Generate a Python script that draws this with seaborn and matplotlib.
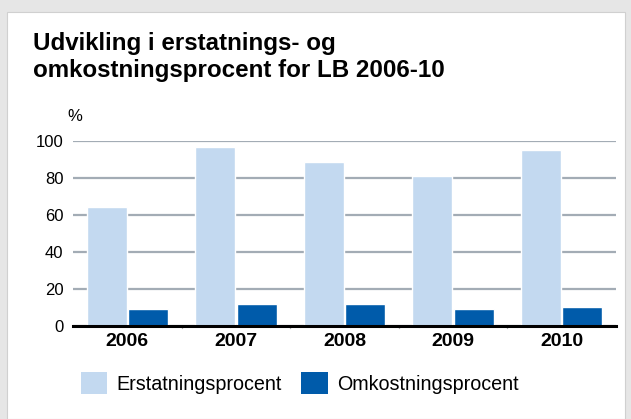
import pandas as pd
import matplotlib
matplotlib.use("Agg")
import matplotlib.pyplot as plt
import seaborn as sns
from matplotlib.patches import Rectangle, Patch

# ================================
# DATA
# ================================
years = ["2006", "2007", "2008", "2009", "2010"]
erstatning = [64, 97, 88.6, 81, 95.1]
omkostning = [9, 12, 11.5, 9, 10.1]
series = ["Erstatningsprocent", "Omkostningsprocent"]
colors = ["#c3d9f0", "#005baa"]

df = pd.DataFrame({
    "year": years * 2,
    "value": erstatning + omkostning,
    "series": [series[0]] * len(years) + [series[1]] * len(years),
})

# ================================
# FIGURE
# ================================
sns.set_style("white")
plt.rcParams["font.family"] = ["Liberation Sans", "DejaVu Sans"]
plt.rcParams["text.color"] = "black"
plt.rcParams["xtick.color"] = "black"
plt.rcParams["ytick.color"] = "black"

W, H = 631, 419
fig = plt.figure(figsize=(W / 100, H / 100), dpi=100)
fig.patch.set_facecolor("#e6e6e6")
fig.patches.append(Rectangle((7 / W, 0), 618 / W, 1 - 12 / H,
                             transform=fig.transFigure, facecolor="white",
                             edgecolor="#d0d0d0", linewidth=0.8, zorder=-10))

ax = fig.add_axes([73 / W, 1 - 325.7 / H, 543 / W, 184.7 / H])
ax.set_facecolor("none")

sns.barplot(data=df, x="year", y="value", hue="series", palette=colors,
            width=0.764, gap=0.036, saturation=1, ax=ax, legend=False, zorder=3)

ax.set_ylim(0, 100)
ax.set_yticks([0, 20, 40, 60, 80, 100])
ax.set_xlim(-0.5, 4.5)
ax.yaxis.grid(True, color="#a3acb5", linewidth=1.6, zorder=0)
ax.set_axisbelow(True)
for s in ["top", "right", "left"]:
    ax.spines[s].set_visible(False)
ax.spines["bottom"].set_color("black")
ax.spines["bottom"].set_linewidth(2.2)
ax.spines["bottom"].set_zorder(5)
ax.set_xlabel("")
ax.set_ylabel("")
ax.tick_params(axis="y", length=0, labelsize=12, pad=7)
ax.tick_params(axis="x", length=0, labelsize=14, pad=5)
for lbl in ax.get_xticklabels():
    lbl.set_fontweight("bold")

# small separators under the axis
for xb in [0.5, 1.5, 2.5, 3.5]:
    ax.plot([xb, xb], [0, -1.5], color="#b0b0b0", linewidth=1,
            clip_on=False, zorder=4)

ax.text(-0.48, 111, "%", fontsize=12, ha="center", va="baseline")

fig.text(33 / W, 1 - 50 / H, "Udvikling i erstatnings- og",
         fontsize=17.4, fontweight="bold", ha="left", va="baseline")
fig.text(33 / W, 1 - 77 / H, "omkostningsprocent for LB 2006-10",
         fontsize=17.4, fontweight="bold", ha="left", va="baseline")

handles = [Patch(facecolor=c, edgecolor="none") for c in colors]
fig.legend(handles, series, loc="center left", bbox_to_anchor=(63 / W, 1 - 383 / H),
           ncol=2, frameon=False, fontsize=14.2, handlelength=1.35, handleheight=1.35,
           handletextpad=0.45, columnspacing=1.0)

fig.savefig("out.png", dpi=100, facecolor=fig.get_facecolor())
